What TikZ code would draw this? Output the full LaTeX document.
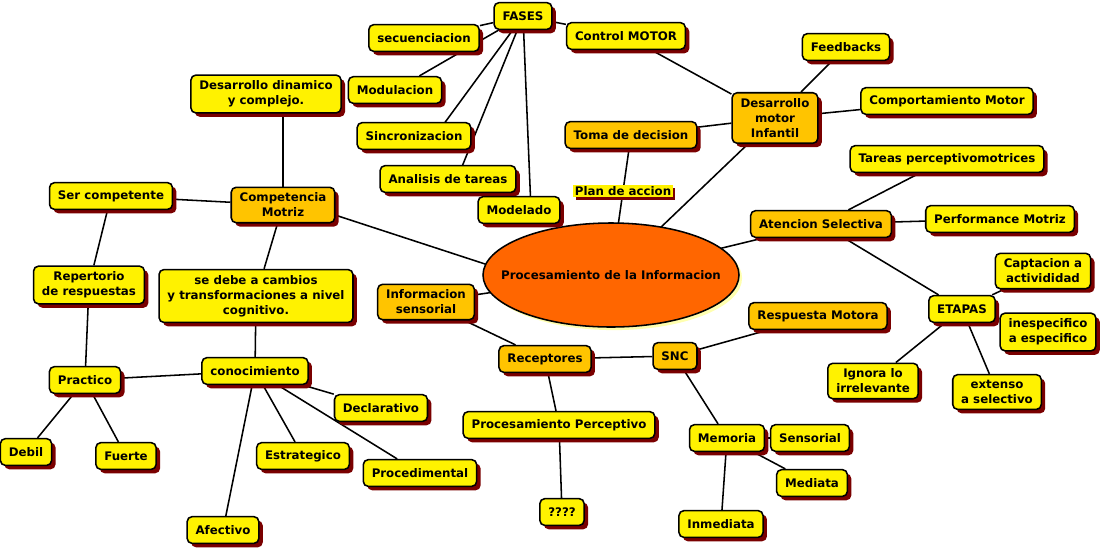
\documentclass[tikz,border=0pt]{standalone}
\usepackage{fontspec}
\setmainfont{DejaVu Sans}
\usetikzlibrary{shadows,backgrounds,calc}

\begin{document}
\begin{tikzpicture}[x=0.025cm,y=-0.025cm,
    font=\fontsize{8.4}{10.7}\selectfont\bfseries,
    caja/.style={draw=black,line width=1.1pt,rounded corners=3.5pt,fill=amarillo,
        align=center,inner xsep=6pt,inner ysep=4pt,minimum height=19pt,
        drop shadow={shadow xshift=2.8pt,shadow yshift=-2.8pt,fill=sombra,opacity=1}},
    cajaoro/.style={caja,fill=oro},
    etiqueta/.style={fill=amarillo,inner sep=1pt,
        drop shadow={shadow xshift=2pt,shadow yshift=-2pt,fill=sombra,opacity=1}},
    conector/.style={line width=1.1pt,black}]
    % Definición de colores
    \colorlet{amarillo}{yellow}
    \definecolor{oro}{HTML}{FFC400}
    \definecolor{sombra}{HTML}{7A0000}
    \definecolor{naranja}{HTML}{FF6600}
    \definecolor{brillo}{HTML}{FFFFB0}

    \useasboundingbox (0,0) rectangle (1104,549);

    % Nodo central (elipse)
    \draw[line width=1.1pt,fill=naranja,
        drop shadow={shadow xshift=2.2pt,shadow yshift=-2.2pt,fill=brillo,opacity=1}]
        (611,275) ellipse (128 and 52);
    \node[inner sep=0pt] (proc) at (611,275) {Procesamiento de la Informacion};

    % Rama superior: FASES
    \node[caja] (fases) at (523,16) {FASES};
    \node[caja] (secuen) at (424,38) {secuenciacion};
    \node[caja] (control) at (626,36) {Control MOTOR};
    \node[caja] (modul) at (395,90) {Modulacion};
    \node[caja] (sincro) at (414,136) {Sincronizacion};
    \node[caja] (analisis) at (448,179) {Analisis de tareas};
    \node[caja] (modelado) at (519,210) {Modelado};
    \node[cajaoro] (toma) at (631,135) {Toma de decision};
    \node[etiqueta] (plan) at (623,191) {Plan de accion};

    % Rama derecha: desarrollo motor y atencion
    \node[cajaoro] (desmotor) at (775,118) {Desarrollo\\motor\\Infantil};
    \node[caja] (feedbacks) at (846,47) {Feedbacks};
    \node[caja] (comport) at (947,101) {Comportamiento Motor};
    \node[caja] (tareas) at (947,159) {Tareas perceptivomotrices};
    \node[cajaoro] (atencion) at (821,224) {Atencion Selectiva};
    \node[caja] (performance) at (1000,219) {Performance Motriz};
    \node[caja] (captacion) at (1043,271) {Captacion a\\activididad};
    \node[caja] (etapas) at (962,309) {ETAPAS};
    \node[caja] (inespec) at (1048,332) {inespecifico\\a especifico};
    \node[caja] (ignora) at (873,381) {Ignora lo\\irrelevante};
    \node[caja] (extenso) at (997,392) {extenso\\a selectivo};
    \node[cajaoro] (respuesta) at (818,316) {Respuesta Motora};

    % Rama inferior: receptores y SNC
    \node[cajaoro] (infosens) at (426,302) {Informacion\\sensorial};
    \node[cajaoro] (receptores) at (545,359) {Receptores};
    \node[cajaoro] (snc) at (675,356) {SNC};
    \node[caja] (perceptivo) at (559,425) {Procesamiento Perceptivo};
    \node[caja] (incognita) at (562,512) {????};
    \node[caja] (memoria) at (727,438) {Memoria};
    \node[caja] (sensorial) at (810,438) {Sensorial};
    \node[caja] (mediata) at (812,483) {Mediata};
    \node[caja] (inmediata) at (721,524) {Inmediata};

    % Rama izquierda: competencia motriz
    \node[caja] (dinamico) at (266,94) {Desarrollo dinamico\\y complejo.};
    \node[cajaoro] (competencia) at (283,205) {Competencia\\Motriz};
    \node[caja] (sercomp) at (111,196) {Ser competente};
    \node[caja] (repertorio) at (89,285) {Repertorio\\de respuestas};
    \node[caja] (cambios) at (256,296) {se debe a cambios\\y transformaciones a nivel\\cognitivo.};
    \node[caja] (practico) at (85,380) {Practico};
    \node[caja] (conocimiento) at (255,371) {conocimiento};
    \node[caja] (declarativo) at (381,408) {Declarativo};
    \node[caja] (debil) at (26,452) {Debil};
    \node[caja] (fuerte) at (126,456) {Fuerte};
    \node[caja] (estrategico) at (303,456) {Estrategico};
    \node[caja] (procedimental) at (420,473) {Procedimental};
    \node[caja] (afectivo) at (223,530) {Afectivo};

    % Conexiones (detras de las cajas)
    \begin{scope}[on background layer]
        \foreach \a/\b in {fases/secuen,fases/modul,fases/control,control/desmotor,
            desmotor/feedbacks,desmotor/comport,desmotor/toma,desmotor/proc.center,
            toma/proc.center,atencion/proc.center,infosens/proc.center,
            infosens/receptores,receptores/snc,
            receptores/perceptivo,perceptivo/incognita,snc/respuesta,snc/memoria,
            memoria/inmediata,memoria/sensorial,memoria/mediata,atencion/tareas,
            atencion/performance,atencion/etapas,etapas/captacion,etapas/inespec,
            etapas/ignora,etapas/extenso,competencia/sercomp,competencia/cambios,
            sercomp/repertorio,repertorio/practico,cambios/conocimiento,
            conocimiento/practico,conocimiento/declarativo,conocimiento/estrategico,
            conocimiento/procedimental,conocimiento/afectivo,practico/debil,practico/fuerte}
        {
            \draw[conector] (\a) -- (\b);
        }
        \draw[conector] ($(sincro)+(21,0)$) -- (fases);
        \draw[conector] ($(analisis)+(9,0)$) -- (fases);
        \draw[conector] ($(modelado)+(12,0)$) -- (fases);
        \draw[conector] (competencia) -- (competencia |- dinamico);
        \draw[conector] ($(competencia)+(0,-7)$) -- ($(proc)+(-80,4)$);
    \end{scope}

\end{tikzpicture}
\end{document}
